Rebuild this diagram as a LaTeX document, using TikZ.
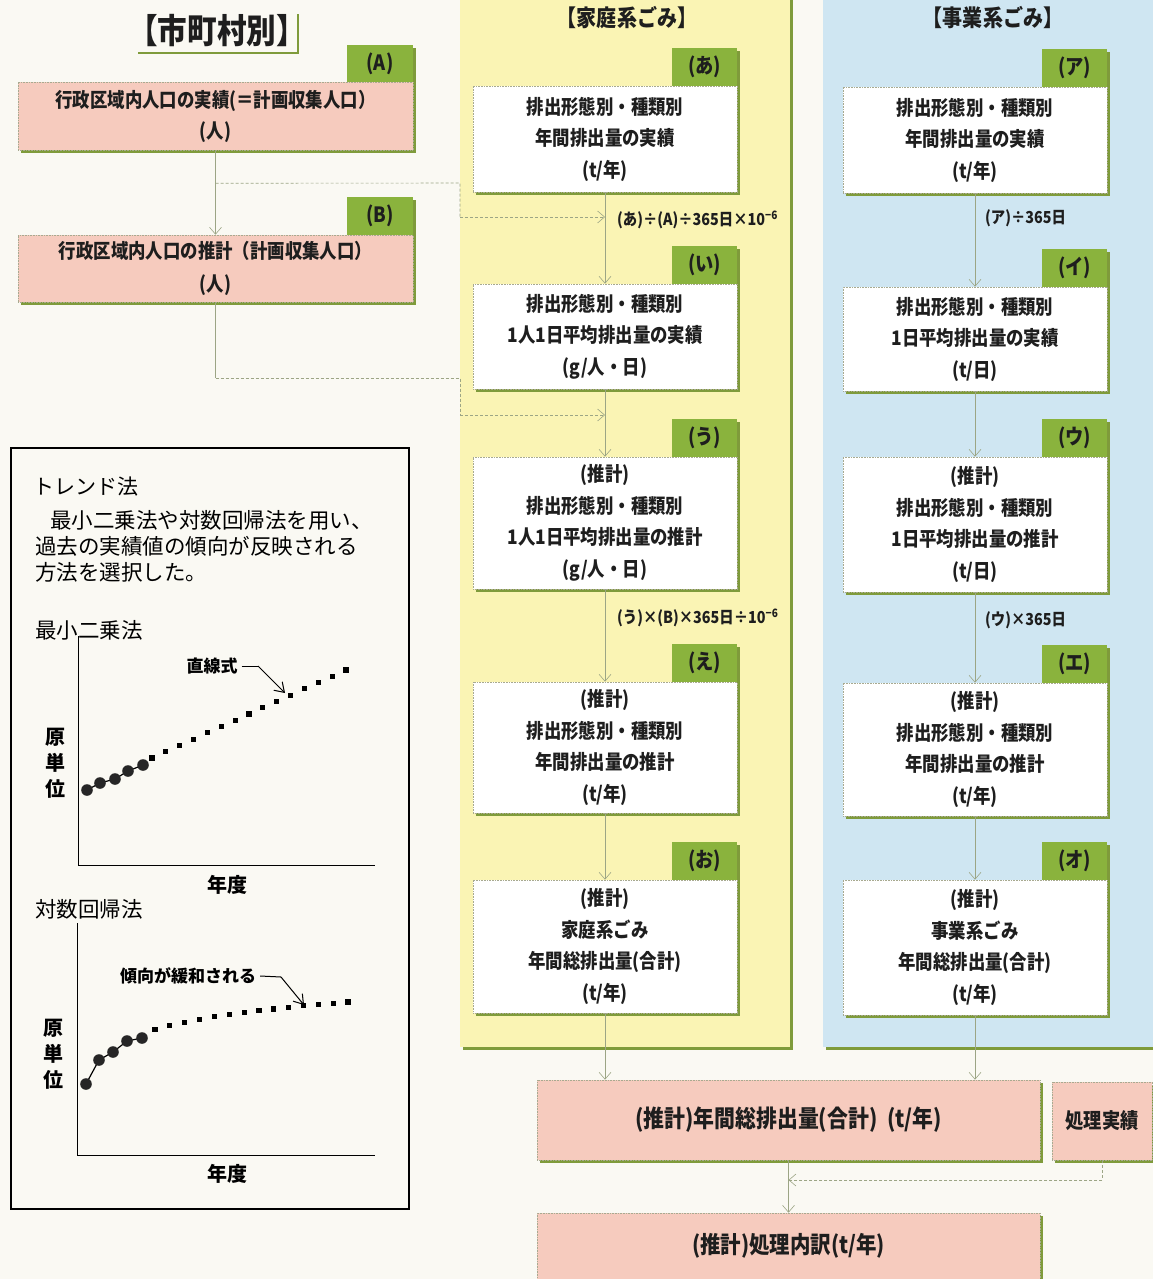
\documentclass[tikz,border=0pt]{standalone}
\usepackage{fontspec}
\setmainfont{Noto Sans CJK JP}
\newfontfamily\cjkc[FakeStretch=0.87]{Noto Sans CJK JP}
\usetikzlibrary{arrows.meta,shadows}
\definecolor{bg}{HTML}{FAF9F3}
\definecolor{pinkf}{HTML}{F6CBBE}
\definecolor{yel}{HTML}{FAF4B4}
\definecolor{blu}{HTML}{CFE6F2}
\definecolor{tagg}{HTML}{8AB33D}
\definecolor{shg}{HTML}{7F9B3B}
\definecolor{connc}{HTML}{9CA585}
\definecolor{dotb}{HTML}{A8AA90}
\definecolor{txt}{HTML}{1E1E1E}
\tikzset{
  shad/.style={general shadow={fill=shg, shadow xshift=3pt, shadow yshift=-3pt}},
  bx/.style={shad, draw=dotb, densely dotted, line width=0.6pt, inner sep=0pt, align=center, text=txt},
  wbox/.style={bx, fill=white, minimum width=264pt, font=\cjkc\fontsize{20}{31.5}\selectfont\bfseries},
  pbox/.style={bx, fill=pinkf},
  tagbox/.style={shad, fill=tagg, minimum width=65pt, minimum height=38pt, inner sep=0pt, font=\cjkc\fontsize{21}{22}\selectfont\bfseries, text=txt},
  conn/.style={draw=connc, line width=0.6pt, -{Straight Barb[length=7pt,width=12pt]}},
  dline/.style={draw=connc, line width=0.6pt, densely dashed},
  flab/.style={anchor=west, inner sep=0pt, font=\cjkc\fontsize{16.5}{19}\selectfont\bfseries, text=txt},
  ptitle/.style={inner sep=0pt, font=\cjkc\fontsize{23}{25}\selectfont\bfseries, text=txt},
  ltext/.style={anchor=west, inner sep=0pt, font=\fontsize{21.5}{26}\selectfont, text=black},
  axisl/.style={draw=black, line width=1pt},
  plab/.style={inner sep=0pt, font=\fontsize{17}{19}\selectfont\bfseries, text=black},
  parrow/.style={draw=black, line width=1pt, -{Straight Barb[length=9pt,width=12pt]}},
}
\begin{document}
\begin{tikzpicture}[x=1pt,y=-1pt]
\useasboundingbox (0,0) rectangle (1153,1279);
\fill[bg] (0,0) rectangle (1153,1279);

% ---------- panels ----------
\node[shad, fill=yel, minimum width=330pt, minimum height=1060pt, inner sep=0pt] (pY) at (625,517) {};
\node[shad, fill=blu, minimum width=340pt, minimum height=1060pt, inner sep=0pt] (pB) at (993,517) {};
\node[ptitle] (tY) at (627,18) {【家庭系ごみ】};
\node[ptitle] (tB) at (993,18) {【事業系ごみ】};

% ---------- title ----------
\draw[shg, line width=2.5pt] (138,53) -- (298,53) -- (298,14);
\node[inner sep=0pt, font=\cjkc\fontsize{34}{36}\selectfont\bfseries, text=txt] (title) at (217,31) {【市町村別】};

% ---------- left boxes ----------
\node[tagbox, minimum width=66pt, minimum height=37pt] (tA) at (380,63.5) {(A)};
\node[pbox, minimum width=395pt, minimum height=68pt, font=\cjkc\fontsize{20}{31}\selectfont\bfseries] (A) at (215.5,116) {行政区域内人口の実績(＝計画収集人口）\\(人)};
\node[tagbox, minimum width=66pt, minimum height=38pt] (tB2) at (380,216) {(B)};
\node[pbox, minimum width=395pt, minimum height=67pt, font=\cjkc\fontsize{20}{33}\selectfont\bfseries] (B) at (215.5,268.5) {行政区域内人口の推計（計画収集人口）\\(人)};

% ---------- household column ----------
\node[tagbox] (ta) at (704.5,67) {(あ)};
\node[wbox, minimum height=106pt] (a) at (605,139) {排出形態別・種類別\\年間排出量の実績\\(t/年)};
\node[tagbox] (ti) at (704.5,265) {(い)};
\node[wbox, minimum height=105pt] (i) at (605,336.5) {排出形態別・種類別\\1人1日平均排出量の実績\\(g/人・日)};
\node[tagbox] (tu) at (704.5,438) {(う)};
\node[wbox, minimum height=132pt] (u) at (605,523) {(推計)\\排出形態別・種類別\\1人1日平均排出量の推計\\(g/人・日)};
\node[tagbox] (te) at (704.5,663) {(え)};
\node[wbox, minimum height=131pt] (e) at (605,747.5) {(推計)\\排出形態別・種類別\\年間排出量の推計\\(t/年)};
\node[tagbox] (to) at (704.5,861) {(お)};
\node[wbox, minimum height=133pt] (o) at (605,946.5) {(推計)\\家庭系ごみ\\年間総排出量(合計)\\(t/年)};

% ---------- business column ----------
\node[tagbox] (tA2) at (1074.5,68) {(ア)};
\node[wbox, minimum height=106pt] (A2) at (975,140) {排出形態別・種類別\\年間排出量の実績\\(t/年)};
\node[tagbox] (tI2) at (1074.5,268) {(イ)};
\node[wbox, minimum height=104pt] (I2) at (975,339) {排出形態別・種類別\\1日平均排出量の実績\\(t/日)};
\node[tagbox] (tU2) at (1074.5,438) {(ウ)};
\node[wbox, minimum height=135pt] (U2) at (975,524.5) {(推計)\\排出形態別・種類別\\1日平均排出量の推計\\(t/日)};
\node[tagbox] (tE2) at (1074.5,664) {(エ)};
\node[wbox, minimum height=133pt] (E2) at (975,749.5) {(推計)\\排出形態別・種類別\\年間排出量の推計\\(t/年)};
\node[tagbox] (tO2) at (1074.5,861) {(オ)};
\node[wbox, minimum height=135pt] (O2) at (975,947.5) {(推計)\\事業系ごみ\\年間総排出量(合計)\\(t/年)};

% ---------- bottom boxes ----------
\node[pbox, minimum width=503pt, minimum height=80pt, font=\cjkc\fontsize{24}{26}\selectfont\bfseries] (tot) at (788.5,1120) {(推計)年間総排出量(合計)\ \ (t/年)};
\node[pbox, minimum width=100pt, minimum height=78pt, font=\cjkc\fontsize{21}{22}\selectfont\bfseries] (sj) at (1102,1121) {処理実績};
\node[pbox, minimum width=503pt, minimum height=66pt, font=\cjkc\fontsize{23.5}{26}\selectfont\bfseries] (fin) at (788.5,1246) {(推計)処理内訳(t/年)};

% ---------- formula labels ----------
\node[flab] (f1) at (617,220) {(あ)÷(A)÷365日×10\textsuperscript{−6}};
\node[flab] (f2) at (617,618) {(う)×(B)×365日÷10\textsuperscript{−6}};
\node[flab] (f3) at (985,218) {(ア)÷365日};
\node[flab] (f4) at (985,620) {(ウ)×365日};

% ---------- connectors ----------
\draw[conn] (A.south) -- (B.north);
\path (A.south) ++(0,33) coordinate (ja);
\coordinate (ka) at (460,183);
\coordinate (kb) at (460,217);
\coordinate (jy1) at (605,217);
\draw[dline] (ja) -- (ka) -- (kb);
\draw[conn, densely dashed] (kb) -- (jy1);
\coordinate (jb) at (215.5,378);
\coordinate (kc) at (460,378);
\coordinate (kd) at (460,415);
\coordinate (jy2) at (605,415);
\draw[draw=connc, line width=0.6pt] (B.south) -- (jb);
\draw[dline] (jb) -- (kc) -- (kd);
\draw[conn, densely dashed] (kd) -- (jy2);

\draw[conn] (a.south) -- (i.north);
\draw[conn] (i.south) -- (u.north);
\draw[conn] (u.south) -- (e.north);
\draw[conn] (e.south) -- (o.north);
\draw[conn] (A2.south) -- (I2.north);
\draw[conn] (I2.south) -- (U2.north);
\draw[conn] (U2.south) -- (E2.north);
\draw[conn] (E2.south) -- (O2.north);
\draw[conn] (o.south) -- (o.south |- tot.north);
\draw[conn] (O2.south) -- (O2.south |- tot.north);
\draw[conn] (tot.south) -- (fin.north);
\coordinate (sj1) at (1102,1180);
\coordinate (sj2) at (788.5,1180);
\draw[dline] (sj.south) -- (sj1);
\draw[conn, densely dashed] (sj1) -- (sj2);

% ---------- trend box ----------
\draw[black, line width=1.3pt] (11,448) rectangle (409,1209);
\node[ltext, font=\fontsize{21}{24}\selectfont] (tr) at (33,487) {トレンド法};
\node[ltext] (p1) at (35,520) {\hspace{15pt}最小二乗法や対数回帰法を用い、};
\node[ltext] (p2) at (35,546) {過去の実績値の傾向が反映される};
\node[ltext] (p3) at (35,572) {方法を選択した。};

% least squares plot
\node[ltext] (ls) at (35,630) {最小二乗法};
\draw[axisl] (78,636) -- (78,865) -- (375,865);
\node[plab, font=\fontsize{20}{20}\selectfont\bfseries] (y1) at (227,885) {年度};
\node[plab, font=\fontsize{20}{26}\selectfont\bfseries, align=center] (g1) at (55,763) {原\\単\\位};
\foreach \i in {0,...,14} {
  \fill[black] ({152+\i*13.86-2.6},{758-\i*6.29-2.6}) rectangle ++(5.2,5.2);
}
\draw[black, line width=1.2pt] (87,790) -- (100,783) -- (115,779) -- (128,771) -- (143,765);
\foreach \p in {(87,790),(100,783),(115,779),(128,771),(143,765)} {
  \fill[black!85] \p circle[radius=5.8pt];
}
\node[plab] (lz) at (212,666) {直線式};
\coordinate (lz1) at (258,666);
\coordinate (lz2) at (285,693);
\draw[black, line width=1pt] ([xshift=4pt]lz.east) -- (lz1);
\draw[parrow] (lz1) -- (lz2);

% log plot
\node[ltext] (lg) at (35,909) {対数回帰法};
\draw[axisl] (77,923) -- (77,1155) -- (375,1155);
\node[plab, font=\fontsize{20}{20}\selectfont\bfseries] (y2) at (227,1174) {年度};
\node[plab, font=\fontsize{20}{26}\selectfont\bfseries, align=center] (g2) at (53,1054) {原\\単\\位};
\foreach \i in {0,...,13} {
  \pgfmathsetmacro\xx{155+\i*14.85}
  \pgfmathsetmacro\yy{1122.7-21.6*ln(\xx-80)}
  \fill[black] ({\xx-2.6},{\yy-2.6}) rectangle ++(5.2,5.2);
}
\draw[black, line width=1.2pt] (86,1084) -- (99,1060) -- (113,1052) -- (127,1041) -- (142,1038);
\foreach \p in {(86,1084),(99,1060),(113,1052),(127,1041),(142,1038)} {
  \fill[black!85] \p circle[radius=5.8pt];
}
\node[plab] (lk) at (188,976) {傾向が緩和される};
\coordinate (lk1) at (281,977);
\coordinate (lk2) at (304,1005);
\draw[black, line width=1pt] ([xshift=4pt]lk.east) -- (lk1);
\draw[parrow] (lk1) -- (lk2);
\end{tikzpicture}
\end{document}
